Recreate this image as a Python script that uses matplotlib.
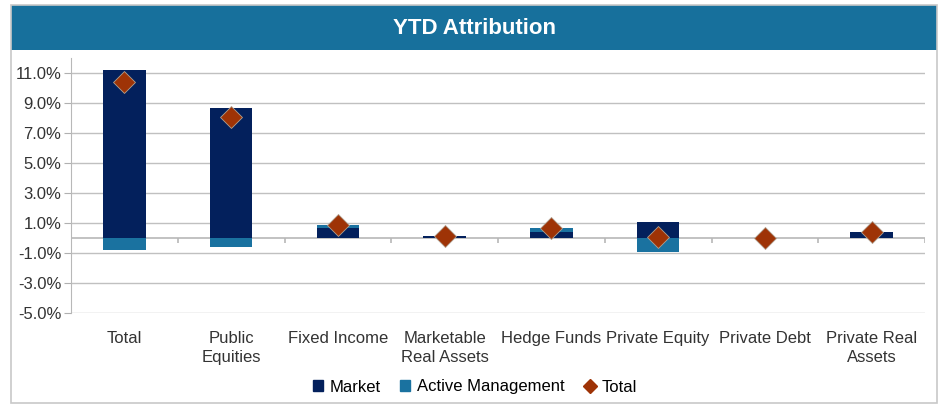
import numpy as np
import matplotlib.pyplot as plt
from matplotlib.patches import Rectangle
from matplotlib.lines import Line2D

categories = ["Total", "Public\nEquities", "Fixed Income", "Marketable\nReal Assets",
              "Hedge Funds", "Private Equity", "Private Debt", "Private Real\nAssets"]
market = [11.2, 8.7, 0.7, 0.15, 0.37, 1.05, 0.0, 0.4]
active = [-0.8, -0.6, 0.15, 0.0, 0.33, -0.95, 0.03, 0.02]
total = [10.4, 8.1, 0.87, 0.15, 0.69, 0.1, 0.03, 0.42]
yticks = [-5, -3, -1, 1, 3, 5, 7, 9, 11]

navy = "#03205c"
blue = "#1a72a0"
rust = "#9e3306"

plt.rcParams["font.family"] = ["Liberation Sans", "DejaVu Sans"]

fig = plt.figure(figsize=(9.4, 4.04), dpi=100)

# frame and title bar
fig.patches.append(Rectangle((11 / 940, 1 / 404), 926 / 940, 398 / 404, transform=fig.transFigure,
                             facecolor="none", edgecolor="#c8c8c8", lw=1.2, zorder=5))
fig.patches.append(Rectangle((11 / 940, 1 - 50 / 404), 926 / 940, 45 / 404, transform=fig.transFigure,
                             facecolor="#17709c", edgecolor="none", zorder=1))
fig.text(0.505, 1 - 28 / 404, "YTD Attribution", color="white", fontsize=16, fontweight="bold",
         ha="center", va="center")

ax = fig.add_axes([71 / 940, 1 - 313 / 404, 854 / 940, 255 / 404])
ax.set_facecolor("none")
x = np.arange(len(categories))
m = np.array(market)
a = np.array(active)
# active stacks on top of market when both positive, otherwise from zero
a_base = np.where((a >= 0) & (m >= 0), m, 0)
ax.bar(x, m, width=0.4, color=navy, zorder=3)
ax.bar(x, a, width=0.4, bottom=a_base, color=blue, zorder=3)
ax.plot(x, total, linestyle="none", marker="D", markersize=11, color=rust,
        markeredgecolor="#b0a090", markeredgewidth=0.6, zorder=4)

ax.set_xlim(-0.5, len(categories) - 0.5)
ax.set_ylim(-5, 12)
ax.set_yticks(yticks)
ax.set_yticklabels([f"{v:.1f}%" for v in yticks], fontsize=12, color="#333333")
ax.yaxis.grid(True, color="#c0c0c0", lw=1, zorder=0)
ax.set_xticks(x)
ax.set_xticklabels(categories, fontsize=12, color="#333333", linespacing=1.35)
ax.tick_params(axis="x", length=0, pad=13)
ax.tick_params(axis="y", length=5, color="#b0b0b0", pad=2)

# zero line with category separators
ax.axhline(0, color="#b8b8b8", lw=1.2, zorder=2)
ax.vlines(np.arange(len(categories) + 1) - 0.5, -0.35, 0, color="#b8b8b8", lw=1.2, zorder=2)

for s in ["top", "right", "bottom"]:
    ax.spines[s].set_visible(False)
ax.spines["left"].set_color("#b8b8b8")

handles = [Rectangle((0, 0), 1, 1, color=navy),
           Rectangle((0, 0), 1, 1, color=blue),
           Line2D([], [], linestyle="none", marker="D", markersize=7, color=rust)]
fig.legend(handles, ["Market", "Active Management", "Total"], loc="center",
           bbox_to_anchor=(0.505, 1 - 387 / 404), ncol=3, frameon=False, fontsize=12,
           handlelength=0.6, handleheight=0.6, handletextpad=0.4, columnspacing=1.2)

fig.savefig("out.png", dpi=100)
